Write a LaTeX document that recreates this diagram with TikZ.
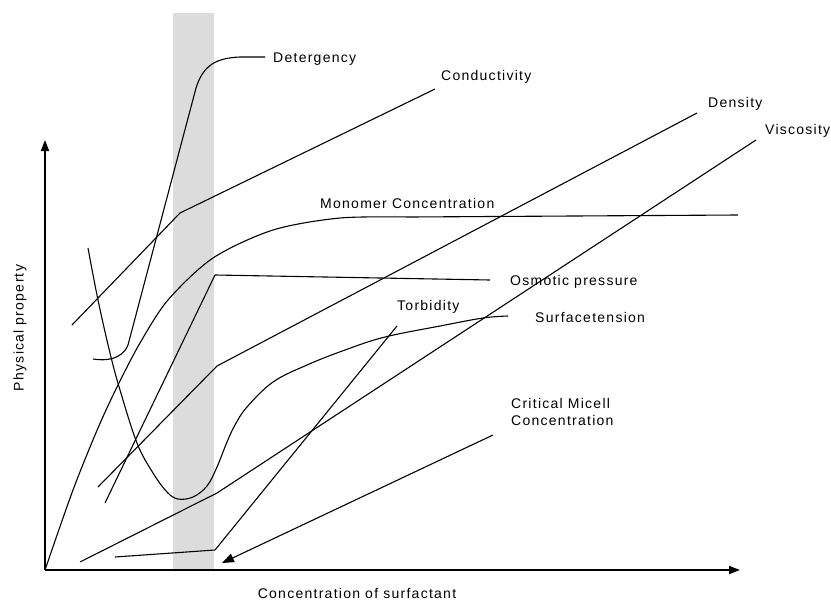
\documentclass[tikz,border=0pt]{standalone}
\usepackage{fontspec}
\setmainfont{Liberation Sans}[LetterSpace=9]
\usetikzlibrary{arrows.meta}
\definecolor{bandgrey}{RGB}{220,220,220}
\begin{document}
\begin{tikzpicture}[x=1pt,y=-1pt,
  curve/.style={line width=1.1pt,black,line join=round},
  axis/.style={line width=1.8pt,black,-{Triangle[length=11pt,width=8pt]}},
  lab/.style={anchor=west,inner sep=0pt,font=\fontsize{14}{17}\selectfont},
  axlab/.style={inner sep=0pt,font=\fontsize{14}{17}\selectfont}]
\useasboundingbox (0,0) rectangle (831,600);
% grey band
\fill[bandgrey] (173,13) rectangle (214,570);
% named points
\coordinate (O) at (45,570);
\coordinate (xend) at (740,570);
\coordinate (yend) at (45,140);
% labels
\node[lab] (det) at (273,59) {Detergency};
\node[lab] (cond) at (441,77) {Conductivity};
\node[lab] (dens) at (708,104) {Density};
\node[lab] (visc) at (765,131) {Viscosity};
\node[lab] (mono) at (320,203) {Monomer Concentration};
\node[lab] (osm) at (510,282) {Osmotic pressure};
\node[lab] (torb) at (397,307) {Torbidity};
\node[lab] (surf) at (535,317) {Surfacetension};
\node[lab,align=left,anchor=north west] (cmc) at (511,398) {Critical Micell\\Concentration};
\node[axlab] (xlab) at (357,593) {Concentration of surfactant};
\node[axlab,rotate=90] (ylab) at (20,328) {Physical property};
% curve end coordinates
\coordinate (detA) at (93,359);
\coordinate (detB) at (128,345);
\coordinate (detC) at (196,88);
\coordinate (detD) at (240,57);
\coordinate (detE) at (265,57);
\coordinate (condA) at (72,325);
\coordinate (condB) at (180,213);
\coordinate (condC) at (435,89);
\coordinate (monoE) at (738,215);
\coordinate (osmA) at (105,503);
\coordinate (osmB) at (215,275);
\coordinate (osmC) at (490,280);
\coordinate (densA) at (98,487);
\coordinate (densB) at (217,366);
\coordinate (densC) at (697,113);
\coordinate (viscA) at (80,562);
\coordinate (viscB) at (217,493);
\coordinate (viscC) at (756,140);
\coordinate (torbA) at (115,557);
\coordinate (torbB) at (215,550);
\coordinate (torbC) at (397,326);
\coordinate (cmcA) at (493,435);
\coordinate (cmcB) at (222,563);
% curves
\draw[curve] (detA) .. controls (105,361) and (122,360) .. (detB) -- (detC)
  .. controls (203,66) and (215,58) .. (detD) -- (detE);
\draw[curve] (condA) -- (condB) -- (condC);
\draw[curve] plot[smooth,tension=0.5] coordinates {(45,570) (73,490) (98,428) (118,385) (140,343) (168,300) (213,258) (273,230) (340,218) (410,217)} -- (monoE);
\draw[curve] (osmA) -- (osmB) -- (osmC);
\draw[curve] (densA) -- (densB) -- (densC);
\draw[curve] (viscA) -- (viscB) -- (viscC);
\draw[curve] plot[smooth,tension=0.6] coordinates {(88,248) (98,300) (110,353) (120,390) (137,443) (153,473) (167,492) (178,499) (193,497) (207,486) (217,467) (227,442) (235,425) (247,407) (273,382) (307,365) (345,350) (385,337) (440,326) (483,318) (508,316)};
\draw[curve] (torbA) -- (torbB) -- (torbC);
\draw[curve,-{Triangle[length=12pt,width=9pt]}] (cmcA) -- (cmcB);
% axes
\draw[axis] (O) -- (xend);
\draw[axis] (O) -- (yend);
\end{tikzpicture}
\end{document}
